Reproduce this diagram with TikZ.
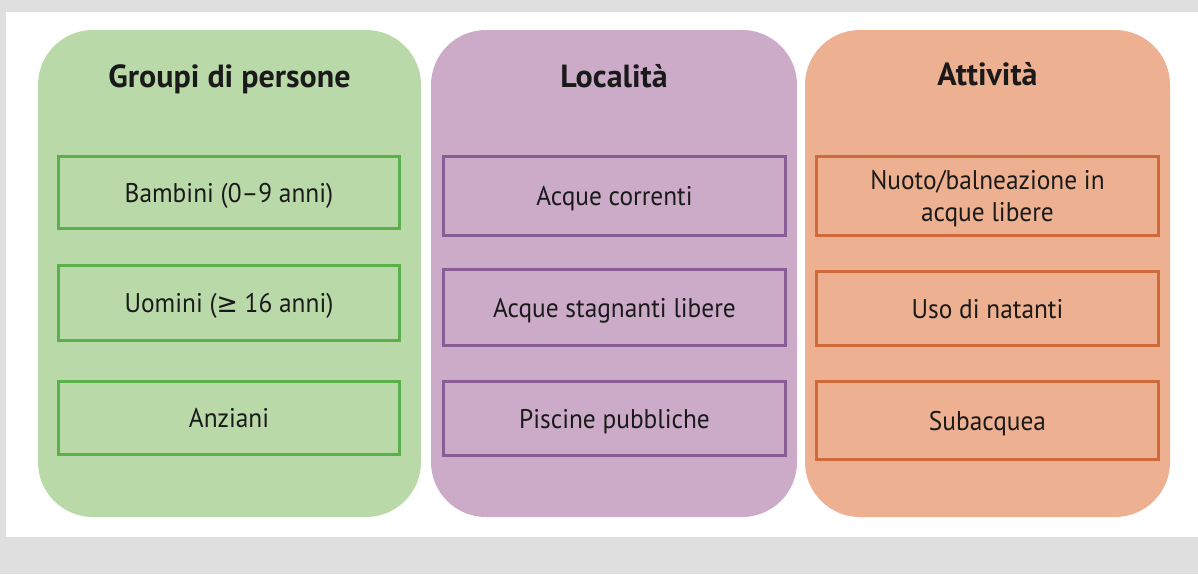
\documentclass[tikz,border=0pt]{standalone}
\usepackage{fontspec}
\setmainfont{PT Sans}
\newfontfamily\bodyfont[FakeStretch=0.94]{PT Sans}
\newfontfamily\symfont[FakeStretch=0.94]{DejaVu Sans}
\definecolor{pagegray}{HTML}{DFDFDF}
\definecolor{greenfill}{HTML}{B9D9A8}
\definecolor{greenline}{HTML}{5BB04A}
\definecolor{purplefill}{HTML}{CCABC9}
\definecolor{purpleline}{HTML}{8A5C96}
\definecolor{orangefill}{HTML}{EDB090}
\definecolor{orangeline}{HTML}{CF6A3A}
\definecolor{ink}{HTML}{1A1A1A}
\tikzset{
  panel/.style={draw=none, rounded corners=55pt, minimum height=487pt, inner sep=0pt},
  heading/.style={anchor=base, text=ink, font=\fontsize{32}{38}\selectfont\bfseries},
  item/.style={draw=#1, line width=3pt, inner sep=0pt, text=ink,
    font=\bodyfont\fontsize{27}{32}\selectfont, align=center,
    text height=23pt, text depth=4pt},
}
\begin{document}
\begin{tikzpicture}[x=1pt, y=-1pt]
  % page background with white sheet
  \fill[pagegray] (0,0) rectangle (1198,574);
  \fill[white] (6,12) rectangle (1198,537);
  \useasboundingbox (0,0) rectangle (1198,574);

  % three category panels
  \node[panel, fill=greenfill,  minimum width=383pt] (people)   at (229.5,273.5) {};
  \node[panel, fill=purplefill, minimum width=366pt] (places)   at (614,273.5) {};
  \node[panel, fill=orangefill, minimum width=365pt] (activity) at (987.5,273.5) {};

  % headings
  \node[heading] (peopleTitle)   at (229.5,87) {Groupi di persone};
  \node[heading] (placesTitle)   at (614,87)   {Località};
  \node[heading] (activityTitle) at (987.5,85) {Attività};

  % people
  \node[item=greenline, fill=greenfill, minimum width=341pt, minimum height=72pt] (kids) at (229,192.5) {Bambini (0–9 anni)};
  \node[item=greenline, fill=greenfill, minimum width=341pt, minimum height=75pt] (men) at (229,303) {Uomini ({\symfont ≥} 16 anni)};
  \node[item=greenline, fill=greenfill, minimum width=341pt, minimum height=73pt] (elderly) at (229,418) {Anziani};

  % places
  \node[item=purpleline, fill=purplefill, minimum width=342pt, minimum height=79pt] (rivers) at (614.5,196) {Acque correnti};
  \node[item=purpleline, fill=purplefill, minimum width=342pt, minimum height=76pt] (lakes) at (614.5,307.5) {Acque stagnanti libere};
  \node[item=purpleline, fill=purplefill, minimum width=342pt, minimum height=74pt] (pools) at (614.5,418.5) {Piscine pubbliche};

  % activities (two-line label: baseline sits on the last line)
  \node[item=orangeline, fill=orangefill, minimum width=342pt, minimum height=79pt, text height=55pt] (swim) at (987.5,196) {Nuoto/balneazione in\\acque libere};
  \node[item=orangeline, fill=orangefill, minimum width=342pt, minimum height=74pt] (boats) at (987.5,308.5) {Uso di natanti};
  \node[item=orangeline, fill=orangefill, minimum width=342pt, minimum height=78pt] (diving) at (987.5,420.5) {Subacquea};
\end{tikzpicture}
\end{document}
